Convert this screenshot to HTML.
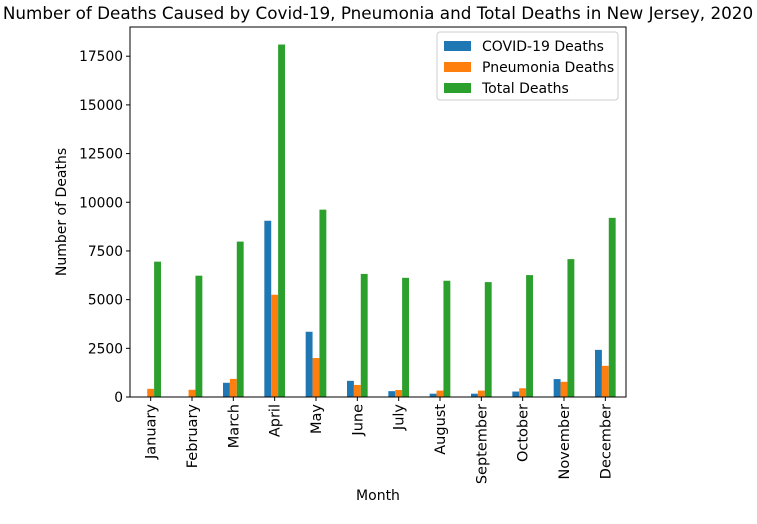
<!DOCTYPE html>
<html><head><meta charset="utf-8"><style>
body{margin:0;background:#fff;}
svg text{font-family:"DejaVu Sans","Liberation Sans",sans-serif;fill:#000;}
</style></head><body>
<svg id="chart" width="757" height="519" xmlns="http://www.w3.org/2000/svg">
<text x="378" y="19" text-anchor="middle" font-size="16.8">Number of Deaths Caused by Covid-19, Pneumonia and Total Deaths in New Jersey, 2020</text>
<g id="plot"></g>
<text x="66" y="212" text-anchor="middle" font-size="14" transform="rotate(-90 66 212)">Number of Deaths</text>
<text x="378" y="500" text-anchor="middle" font-size="14">Month</text>
<g>
<rect x="437" y="32" width="181" height="68" fill="#fff" stroke="#ccc" rx="3"/>
<rect x="444" y="41" width="27" height="10" fill="#1f77b4"/>
<text x="482" y="51" font-size="14">COVID-19 Deaths</text>
<rect x="444" y="62" width="27" height="10" fill="#ff7f0e"/>
<text x="482" y="72" font-size="14">Pneumonia Deaths</text>
<rect x="444" y="83" width="27" height="10" fill="#2ca02c"/>
<text x="482" y="93" font-size="14">Total Deaths</text>
</g>
</svg>
<script>
const months=["January","February","March","April","May","June","July","August","September","October","November","December"];
const covid=[0,0,730,9050,3350,830,300,170,170,280,920,2420];
const pneumonia=[420,370,930,5250,2000,620,360,330,330,450,780,1600];
const total=[6950,6230,7980,18100,9620,6320,6120,5970,5900,6260,7080,9200];
const yTicks=[0,2500,5000,7500,10000,12500,15000,17500];
const L=130,R=626,T=27,B=397,YMAX=19000;
const ns="http://www.w3.org/2000/svg";
const g=document.getElementById('plot');
function y(v){return B-(v/YMAX)*(B-T);}
const step=(R-L)/months.length;
function xc(i){return L+step*(i+0.5);}
const bw=step*0.5/3;
function mk(t,a){const e=document.createElementNS(ns,t);for(const k in a)e.setAttribute(k,a[k]);g.appendChild(e);return e;}
const series=[[covid,"#1f77b4","covid"],[pneumonia,"#ff7f0e","pneumonia"],[total,"#2ca02c","total"]];
months.forEach((m,i)=>{
  series.forEach((s,j)=>{
    const v=s[0][i];
    const r=mk('rect',{x:xc(i)-1.5*bw+j*bw,y:y(v),width:bw,height:B-y(v),fill:s[1]});
    
    
  });
  mk('line',{x1:xc(i),x2:xc(i),y1:B,y2:B+4,stroke:'#000'});
  const t=mk('text',{x:xc(i)+5,y:B+7,'font-size':14.5,'text-anchor':'end',transform:`rotate(-90 ${xc(i)+5} ${B+7})`});
  t.textContent=m;
  
  
});
yTicks.forEach(v=>{
  mk('line',{x1:L-4,x2:L,y1:y(v),y2:y(v),stroke:'#000'});
  const t=mk('text',{x:L-7,y:y(v)+5,'font-size':13.8,'text-anchor':'end'});
  t.textContent=v;
  
  
});
const f=mk('rect',{x:L,y:T,width:R-L,height:B-T,fill:'none',stroke:'#000','stroke-width':1});


</script>
</body></html>
